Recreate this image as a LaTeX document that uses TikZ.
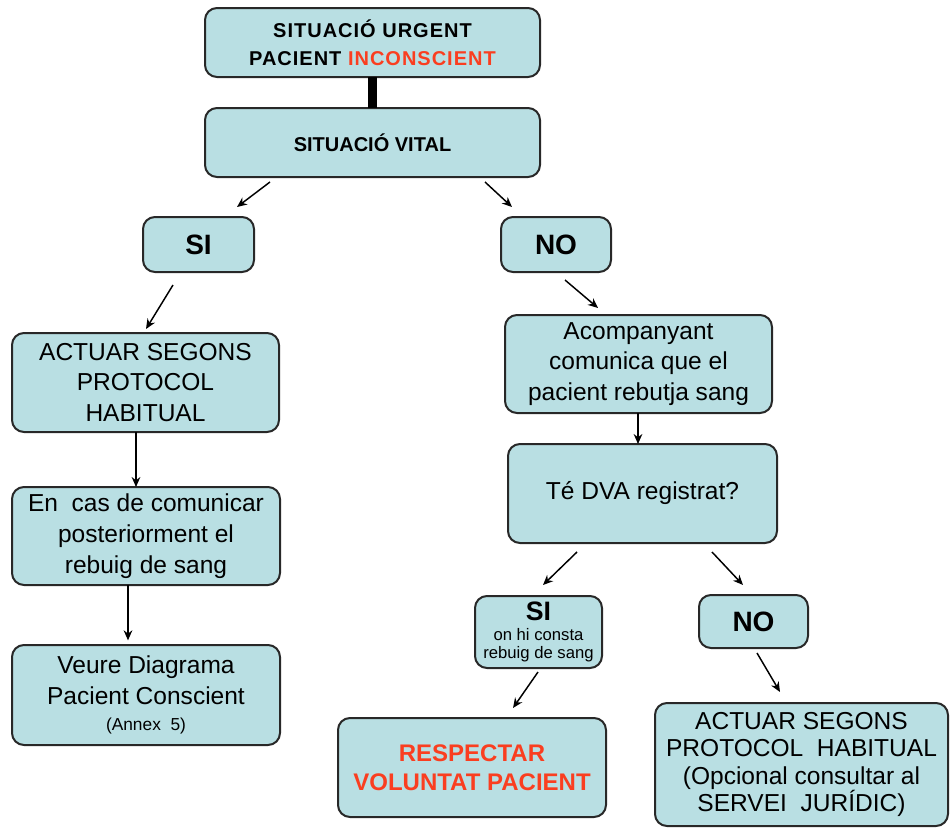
\documentclass[tikz,border=0pt]{standalone}
\usepackage{fontspec}
\setmainfont{Liberation Sans}
\newfontfamily\spacedsans{Liberation Sans}[LetterSpace=5]
\usetikzlibrary{arrows.meta}

\definecolor{boxfill}{RGB}{185,223,227}
\definecolor{boxline}{RGB}{40,40,40}
\definecolor{alert}{RGB}{250,62,32}

\tikzset{
  box/.style={draw=boxline, fill=boxfill, line width=1.5pt, rounded corners=9pt,
    inner sep=0pt, outer sep=0pt, align=center, text=black},
  body/.style={font=\fontsize{18.4}{23}\selectfont},
  headline/.style={font=\spacedsans\bfseries\fontsize{15}{21}\selectfont},
  answer/.style={font=\bfseries\fontsize{21}{24}\selectfont},
  arr/.style={draw=black, line width=1.1pt, -{Stealth[length=7.5pt,width=6.5pt]}},
}

\begin{document}
\begin{tikzpicture}[x=0.75pt,y=-0.75pt]
\useasboundingbox (0,0) rectangle (950,828);

% boxes
\node[box, headline, minimum width=251.25pt, minimum height=51.75pt] (urgent) at (372.5,42.5)
  {SITUACIÓ URGENT\\PACIENT \textcolor{alert}{INCONSCIENT}};
\node[box, font=\bfseries\fontsize{15}{18}\selectfont, minimum width=251.25pt, minimum height=51.75pt] (vital) at (372.5,142.5)
  {SITUACIÓ VITAL};
\node[box, answer, minimum width=83.25pt, minimum height=41.25pt] (si) at (198.5,244.5) {SI};
\node[box, answer, minimum width=82.5pt, minimum height=41.25pt] (no) at (556,244.5) {NO};

\node[box, body, minimum width=200.25pt, minimum height=74.25pt] (actL) at (145.5,382.5)
  {ACTUAR SEGONS\\PROTOCOL\\HABITUAL};
\node[box, body, minimum width=201pt, minimum height=73.5pt] (encas) at (146,536)
  {En\ \ cas de comunicar\\posteriorment el\\rebuig de sang};
\node[box, body, minimum width=201pt, minimum height=75pt] (veure) at (146,695)
  {Veure Diagrama\\Pacient Conscient\\[-3pt]{\fontsize{13}{14}\selectfont (Annex\ \ 5)}};

\node[box, body, minimum width=200.25pt, minimum height=73.5pt] (acomp) at (638.5,364)
  {Acompanyant\\comunica que el\\pacient rebutja sang};
\node[box, body, minimum width=201.75pt, minimum height=74.25pt] (dva) at (642.5,493.5)
  {Té DVA registrat?};
\node[box, font=\fontsize{12.5}{13}\selectfont, minimum width=95.25pt, minimum height=54pt] (siS) at (538.5,632)
  {{\bfseries\fontsize{20}{20}\selectfont SI}\\[2pt]on hi consta\\rebuig de sang};
\node[box, answer, minimum width=81.75pt, minimum height=39.75pt] (noR) at (753.5,621.5) {NO};
\node[box, font=\bfseries\fontsize{18}{22}\selectfont, text=alert, minimum width=201pt, minimum height=74.25pt] (resp) at (472,767.5)
  {RESPECTAR\\VOLUNTAT PACIENT};
\node[box, font=\fontsize{18.4}{20.5}\selectfont, minimum width=219.75pt, minimum height=92.25pt] (actR) at (801.5,764.5)
  {ACTUAR SEGONS\\PROTOCOL\ \ HABITUAL\\(Opcional consultar al\\SERVEI\ \ JURÍDIC)};

% thick link between the two header boxes
\draw[line width=6.2pt] (urgent.south) -- (vital.north);

% free-standing arrow ends
\coordinate (a1s) at (270,182);  \coordinate (a1e) at (237,207);
\coordinate (a2s) at (485,182);  \coordinate (a2e) at (512,207);
\coordinate (a3s) at (173,285);  \coordinate (a3e) at (146,329);
\coordinate (a6s) at (565,280);  \coordinate (a6e) at (598,308);
\coordinate (a8s) at (577,552);  \coordinate (a8e) at (543,585);
\coordinate (a9s) at (712,552);  \coordinate (a9e) at (743,585);
\coordinate (a10s) at (538,672); \coordinate (a10e) at (513,708);
\coordinate (a11s) at (757,653); \coordinate (a11e) at (780,692);

\draw[arr] (a1s) -- (a1e);
\draw[arr] (a2s) -- (a2e);
\draw[arr] (a3s) -- (a3e);
\draw[arr] (a6s) -- (a6e);
\draw[arr] (a8s) -- (a8e);
\draw[arr] (a9s) -- (a9e);
\draw[arr] (a10s) -- (a10e);
\draw[arr] (a11s) -- (a11e);

% vertical links
\coordinate (colA) at (136,0);
\coordinate (colB) at (128,0);
\coordinate (colC) at (638,0);
\draw[arr] (colA |- actL.south) -- (colA |- encas.north);
\draw[arr] (colB |- encas.south) -- ([yshift=3.5pt]colB |- veure.north);
\draw[arr] (colC |- acomp.south) -- (colC |- dva.north);
\end{tikzpicture}
\end{document}
